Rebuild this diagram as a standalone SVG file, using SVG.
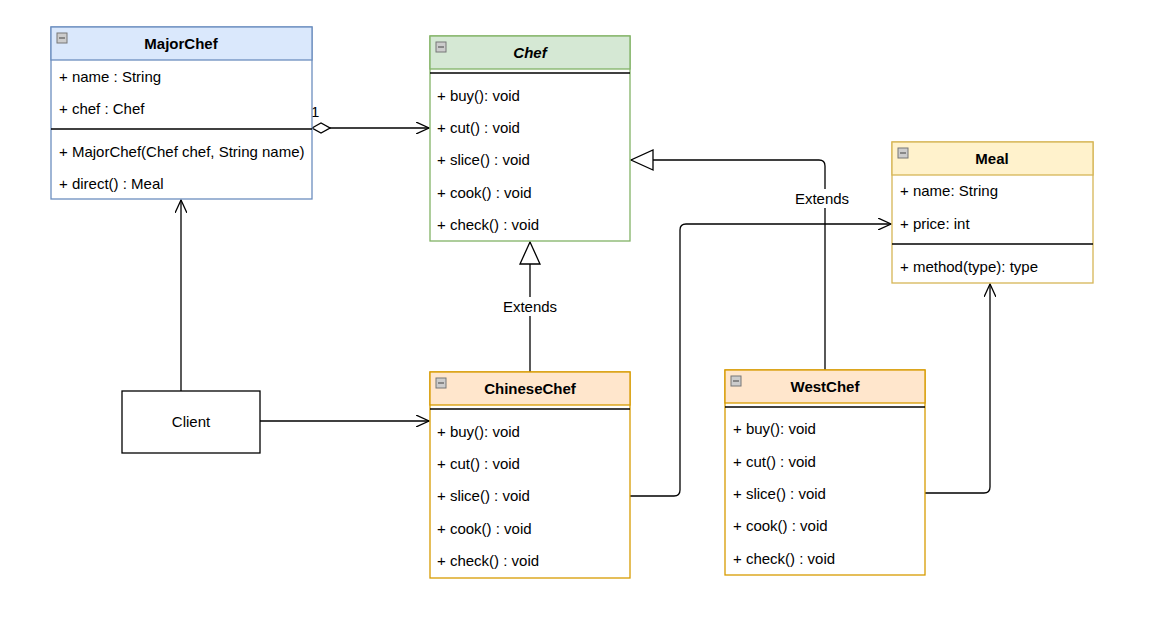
<svg xmlns="http://www.w3.org/2000/svg" width="1168" height="624" viewBox="0 0 1168 624">
<defs>
<style>
text{font-family:"Liberation Sans",Arial,sans-serif;font-size:15px;fill:#000}
.t{font-weight:bold;text-anchor:middle}
.i{font-style:italic}
.c{stroke:#000;stroke-width:1.3;fill:none}
.sep{stroke:#000;stroke-width:1.3}
.icon{fill:#ccc;stroke:#777;stroke-width:1}
.lbl{text-anchor:middle}
</style>
<marker id="open" markerWidth="14" markerHeight="12" refX="13" refY="6" orient="auto" markerUnits="userSpaceOnUse"><path d="M0,0 L13,6 L0,12" fill="none" stroke="#000" stroke-width="1.3"/></marker>
<marker id="tri" markerWidth="24" markerHeight="22" refX="23" refY="11" orient="auto" markerUnits="userSpaceOnUse"><path d="M1,1 L23,11 L1,21 Z" fill="#fff" stroke="#000" stroke-width="1.3"/></marker>
<marker id="dia" markerWidth="20" markerHeight="12" refX="1" refY="6" orient="auto" markerUnits="userSpaceOnUse"><path d="M1,6 L10,1 L19,6 L10,11 Z" fill="#fff" stroke="#000" stroke-width="1.3"/></marker>
</defs>
<rect width="1168" height="624" fill="#fff"/>

<g id="connectors">
<path class="c" d="M181,391 L181,200" marker-end="url(#open)"/>
<path class="c" d="M260,421 L429,421" marker-end="url(#open)"/>
<path class="c" d="M312,128 L429,128" marker-start="url(#dia)" marker-end="url(#open)"/>
<path class="c" d="M530,372 L530,242" marker-end="url(#tri)"/>
<path class="c" d="M825,370 L825,166 Q825,160 819,160 L631,160" marker-end="url(#tri)"/>
<path class="c" d="M630,496 L674,496 Q680,496 680,490 L680,230 Q680,224 686,224 L891,224" marker-end="url(#open)"/>
<path class="c" d="M925,493 L984,493 Q990,493 990,487 L990,284" marker-end="url(#open)"/>
<rect x="498" y="297" width="64" height="19" fill="#fff"/>
<text class="lbl" x="530" y="312">Extends</text>
<rect x="790" y="189" width="64" height="19" fill="#fff"/>
<text class="lbl" x="822" y="204">Extends</text>
<text x="311" y="117">1</text>
</g>

<g id="MajorChef">
<rect x="51" y="27" width="261" height="172" fill="#fff" stroke="#6c8ebf" stroke-width="1.3"/>
<rect x="51" y="27" width="261" height="33" fill="#dae8fc" stroke="#6c8ebf" stroke-width="1.3"/>
<rect class="icon" x="57" y="33" width="10" height="10"/><line x1="59" y1="38" x2="65" y2="38" stroke="#444"/>
<text class="t" x="181" y="49">MajorChef</text>
<text x="59" y="82">+ name : String</text>
<text x="59" y="114">+ chef : Chef</text>
<line class="sep" x1="51" y1="129" x2="312" y2="129"/>
<text x="59" y="157">+ MajorChef(Chef chef, String name)</text>
<text x="59" y="189">+ direct() : Meal</text>
</g>

<g id="Chef">
<rect x="430" y="36" width="200" height="205" fill="#fff" stroke="#82b366" stroke-width="1.3"/>
<rect x="430" y="36" width="200" height="33" fill="#d5e8d4" stroke="#82b366" stroke-width="1.3"/>
<rect class="icon" x="436" y="42" width="10" height="10"/><line x1="438" y1="47" x2="444" y2="47" stroke="#444"/>
<text class="t i" x="530" y="58">Chef</text>
<line class="sep" x1="430" y1="73" x2="630" y2="73"/>
<text x="437" y="101">+ buy(): void</text>
<text x="437" y="133">+ cut() : void</text>
<text x="437" y="165">+ slice() : void</text>
<text x="437" y="198">+ cook() : void</text>
<text x="437" y="230">+ check() : void</text>
</g>

<g id="Meal">
<rect x="892" y="142" width="201" height="141" fill="#fff" stroke="#d6b656" stroke-width="1.3"/>
<rect x="892" y="142" width="201" height="33" fill="#fff2cc" stroke="#d6b656" stroke-width="1.3"/>
<rect class="icon" x="898" y="148" width="10" height="10"/><line x1="900" y1="153" x2="906" y2="153" stroke="#444"/>
<text class="t" x="992" y="164">Meal</text>
<text x="900" y="196">+ name: String</text>
<text x="900" y="229">+ price: int</text>
<line class="sep" x1="892" y1="244" x2="1093" y2="244"/>
<text x="900" y="272">+ method(type): type</text>
</g>

<g id="ChineseChef">
<rect x="430" y="372" width="200" height="206" fill="#fff" stroke="#d79b00" stroke-width="1.3"/>
<rect x="430" y="372" width="200" height="33" fill="#ffe6cc" stroke="#d79b00" stroke-width="1.3"/>
<rect class="icon" x="436" y="378" width="10" height="10"/><line x1="438" y1="383" x2="444" y2="383" stroke="#444"/>
<text class="t" x="530" y="394">ChineseChef</text>
<line class="sep" x1="430" y1="409" x2="630" y2="409"/>
<text x="437" y="437">+ buy(): void</text>
<text x="437" y="469">+ cut() : void</text>
<text x="437" y="501">+ slice() : void</text>
<text x="437" y="534">+ cook() : void</text>
<text x="437" y="566">+ check() : void</text>
</g>

<g id="WestChef">
<rect x="725" y="370" width="200" height="205" fill="#fff" stroke="#d79b00" stroke-width="1.3"/>
<rect x="725" y="370" width="200" height="33" fill="#ffe6cc" stroke="#d79b00" stroke-width="1.3"/>
<rect class="icon" x="731" y="376" width="10" height="10"/><line x1="733" y1="381" x2="739" y2="381" stroke="#444"/>
<text class="t" x="825" y="392">WestChef</text>
<line class="sep" x1="725" y1="407" x2="925" y2="407"/>
<text x="733" y="434">+ buy(): void</text>
<text x="733" y="467">+ cut() : void</text>
<text x="733" y="499">+ slice() : void</text>
<text x="733" y="531">+ cook() : void</text>
<text x="733" y="564">+ check() : void</text>
</g>

<g id="Client">
<rect x="122" y="391" width="138" height="62" fill="#fff" stroke="#000" stroke-width="1.3"/>
<text class="lbl" x="191" y="427">Client</text>
</g>
</svg>
